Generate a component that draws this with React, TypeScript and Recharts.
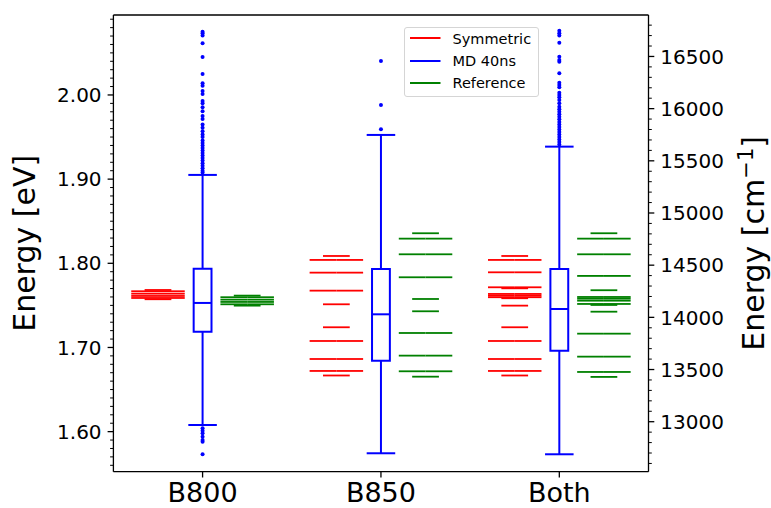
import React from 'react';
import {
  ComposedChart,
  XAxis,
  YAxis,
  Scatter,
  ReferenceLine,
  ReferenceArea,
  Legend,
  Label,
} from 'recharts';

const categories = ['B800', 'B850', 'Both'];

// exciton levels in eV, second value = degeneracy (2 -> drawn as a double-width bar)
const symmetricB800: [number, number][] = [
  [1.7683, 1], [1.7668, 2], [1.7639, 2], [1.7612, 2], [1.7588, 2], [1.7573, 1],
];
const symmetricB850: [number, number][] = [
  [1.8087, 1], [1.804, 2], [1.7889, 2], [1.7675, 2], [1.7513, 1],
  [1.724, 1], [1.7077, 2], [1.6863, 2], [1.6721, 2], [1.6667, 1],
];
const symmetricBoth: [number, number][] = [
  [1.8087, 1], [1.804, 2], [1.7893, 2], [1.7715, 2], [1.7703, 1], [1.7636, 2],
  [1.7616, 2], [1.7597, 2], [1.7585, 1], [1.7497, 1], [1.724, 1], [1.7077, 2],
  [1.6863, 2], [1.6721, 2], [1.6667, 1],
];
const referenceB800: [number, number][] = [
  [1.7616, 1], [1.7597, 2], [1.7568, 2], [1.7541, 2], [1.7513, 2], [1.7497, 1],
];
const referenceB850: [number, number][] = [
  [1.8357, 1], [1.8293, 2], [1.8107, 2], [1.7834, 2], [1.7576, 1],
  [1.743, 1], [1.7172, 2], [1.6903, 2], [1.6717, 2], [1.6653, 1],
];
const referenceBoth: [number, number][] = [
  [1.8357, 1], [1.8293, 2], [1.8107, 2], [1.785, 2], [1.768, 1], [1.76, 2],
  [1.758, 2], [1.7556, 2], [1.7517, 2], [1.7505, 1], [1.7425, 1], [1.7164, 2],
  [1.6891, 2], [1.6709, 2], [1.665, 1],
];

// MD 40ns box statistics per category
const mdQ1 = [1.7188, 1.6843, 1.6962];
const mdMedian = [1.7529, 1.7394, 1.7457];
const mdQ3 = [1.7936, 1.7933, 1.7933];
const mdWhiskerLow = [1.6079, 1.5743, 1.5731];
const mdWhiskerHigh = [1.905, 1.9525, 1.9386];

const mdOutliersB800 = [
  2.0752, 2.0733, 2.0705, 2.0614, 2.0451, 2.0249, 2.0139, 2.011, 2.0048, 2.0012,
  1.9929, 1.9901, 1.9854, 1.9806, 1.9751, 1.9715, 1.965, 1.961, 1.957, 1.953,
  1.95, 1.946, 1.943, 1.94, 1.937, 1.934, 1.931, 1.928, 1.925, 1.922, 1.919,
  1.916, 1.913, 1.91, 1.908, 1.604, 1.6012, 1.5981, 1.594, 1.5901, 1.5881, 1.5731,
];
const mdOutliersB850 = [2.0404, 1.9881, 1.9592];
const mdOutliersBoth = [
  2.0764, 2.0733, 2.0705, 2.0621, 2.0455, 2.0416, 2.0396, 2.0258, 2.0146, 2.0119,
  2.0091, 2.0027, 2.0, 1.9973, 1.9941, 1.9901, 1.986, 1.983, 1.98, 1.977, 1.974,
  1.971, 1.968, 1.965, 1.962, 1.959, 1.956, 1.953, 1.95, 1.947, 1.944, 1.941,
];

const leftMajorTicks = [1.6, 1.7, 1.8, 1.9, 2.0];
const rightMajorTicks = [13000, 13500, 14000, 14500, 15000, 15500, 16000, 16500];

const EV_TO_CM = 8065.54;
const Y_MIN = 1.5524;
const Y_MAX = 2.095;
const RED = '#ff0000';
const BLUE = '#0000ff';
const GREEN = '#008000';
const FONT = 'DejaVu Sans';

const leftMinorTicks: number[] = [];
for (let i = 156; i <= 209; i++) leftMinorTicks.push(i / 100);
const rightMinorTicks: number[] = [];
for (let v = 12600; v <= 16800; v += 100) rightMinorTicks.push(v);

const symmetricLevels = [symmetricB800, symmetricB850, symmetricBoth];
const referenceLevels = [referenceB800, referenceB850, referenceBoth];
const mdOutliers = [mdOutliersB800, mdOutliersB850, mdOutliersBoth];

const outlierPoints = mdOutliers.flatMap((vals, i) => vals.map((y) => ({ x: i + 1, y })));

type Seg = { x1: number; x2: number; y: number; color: string };
const levelSegments = (levels: [number, number][], center: number, color: string): Seg[] =>
  levels.flatMap(([e, deg]) =>
    deg === 2
      ? [
          { x1: center - 0.15, x2: center, y: e, color },
          { x1: center, x2: center + 0.15, y: e, color },
        ]
      : [{ x1: center - 0.075, x2: center + 0.075, y: e, color }]
  );

const segments: Seg[] = [
  ...symmetricLevels.flatMap((lv, i) => levelSegments(lv, i + 0.75, RED)),
  ...referenceLevels.flatMap((lv, i) => levelSegments(lv, i + 1.25, GREEN)),
];

const isMajor = (v: number, majors: number[]) => majors.some((m) => Math.abs(m - v) < 1e-6);

const LeftTick = (props: any) => {
  const { x, y, payload } = props;
  const major = isMajor(payload.value, leftMajorTicks);
  const len = major ? 5.8 : 3.3;
  return (
    <g>
      <line x1={x} x2={x - len} y1={y} y2={y} stroke="#000" strokeWidth={major ? 1.3 : 1} />
      {major && (
        <text x={x - len - 6} y={y} dy="0.36em" textAnchor="end" fontSize={20} fontFamily={FONT} fill="#000">
          {payload.value.toFixed(2)}
        </text>
      )}
    </g>
  );
};

const RightTick = (props: any) => {
  const { x, y, payload } = props;
  const major = isMajor(payload.value, rightMajorTicks);
  const len = major ? 5.8 : 3.3;
  return (
    <g>
      <line x1={x} x2={x + len} y1={y} y2={y} stroke="#000" strokeWidth={major ? 1.3 : 1} />
      {major && (
        <text x={x + len + 6} y={y} dy="0.36em" textAnchor="start" fontSize={20} fontFamily={FONT} fill="#000">
          {payload.value}
        </text>
      )}
    </g>
  );
};

const LeftLabel = (props: any) => {
  const { viewBox } = props;
  const cy = viewBox.y + viewBox.height / 2;
  const bx = 35.5;
  return (
    <text x={bx} y={cy} transform={`rotate(-90, ${bx}, ${cy})`} textAnchor="middle" fontSize={30} fontFamily={FONT} fill="#000">
      Energy [eV]
    </text>
  );
};

const RightLabel = (props: any) => {
  const { viewBox } = props;
  const cy = viewBox.y + viewBox.height / 2;
  const bx = 764.5;
  return (
    <text x={bx} y={cy} transform={`rotate(-90, ${bx}, ${cy})`} textAnchor="middle" fontSize={30} fontFamily={FONT} fill="#000">
      Energy [cm
      <tspan dy={-11} fontSize={21}>−1</tspan>
      <tspan dy={11}>]</tspan>
    </text>
  );
};

const legendItems = [
  { name: 'Symmetric', color: RED },
  { name: 'MD 40ns', color: BLUE },
  { name: 'Reference', color: GREEN },
];

const LegendBox = () => (
  <div
    style={{
      position: 'relative',
      width: 135,
      height: 70,
      boxSizing: 'border-box',
      border: '1px solid #d5d5d5',
      borderRadius: 3,
      background: 'rgba(255,255,255,0.8)',
      fontFamily: FONT,
      fontSize: 14.5,
      color: '#000',
    }}
  >
    {legendItems.map((it, i) => (
      <div key={it.name} style={{ position: 'absolute', left: 0, top: i * 22.2 - 0.7, width: 133, height: 22 }}>
        <svg width={40} height={22} style={{ position: 'absolute', left: 0, top: 0 }}>
          <line x1={5} x2={35.5} y1={11} y2={11} stroke={it.color} strokeWidth={2} />
        </svg>
        <span style={{ position: 'absolute', left: 47.5, top: 0.5, lineHeight: '22px', whiteSpace: 'nowrap' }}>{it.name}</span>
      </div>
    ))}
  </div>
);

export default function App() {
  return (
    <div style={{ position: 'absolute', left: 0, top: 0, background: '#fff' }}>
      <ComposedChart width={771} height={508} margin={{ top: 15, right: 0, bottom: 0, left: 0 }}>
        <XAxis
          type="number"
          dataKey="x"
          domain={[0.5, 3.5]}
          allowDataOverflow
          ticks={[1, 2, 3]}
          interval={0}
          tickFormatter={(v: number) => categories[v - 1]}
          height={36.3}
          tickSize={5.8}
          tickMargin={5}
          axisLine={{ stroke: '#000', strokeWidth: 1.3 }}
          tickLine={{ stroke: '#000', strokeWidth: 1.3 }}
          tick={{ fontSize: 27, fill: '#000', fontFamily: FONT }}
        />
        <YAxis
          yAxisId="left"
          type="number"
          dataKey="y"
          domain={[Y_MIN, Y_MAX]}
          allowDataOverflow
          ticks={leftMinorTicks}
          interval={0}
          width={113.4}
          tickSize={0}
          tickMargin={0}
          tickLine={false}
          axisLine={{ stroke: '#000', strokeWidth: 1.3 }}
          tick={<LeftTick />}
        >
          <Label content={<LeftLabel />} />
        </YAxis>
        <YAxis
          yAxisId="right"
          orientation="right"
          type="number"
          domain={[Y_MIN * EV_TO_CM, Y_MAX * EV_TO_CM]}
          allowDataOverflow
          ticks={rightMinorTicks}
          interval={0}
          width={122.5}
          tickSize={0}
          tickMargin={0}
          tickLine={false}
          axisLine={{ stroke: '#000', strokeWidth: 1.3 }}
          tick={<RightTick />}
        >
          <Label content={<RightLabel />} />
        </YAxis>

        <ReferenceLine yAxisId="left" y={Y_MAX} stroke="#000" strokeWidth={1.3} ifOverflow="visible" />

        {segments.map((s, i) => (
          <ReferenceLine
            key={`lvl-${i}`}
            yAxisId="left"
            segment={[{ x: s.x1, y: s.y }, { x: s.x2, y: s.y }]}
            stroke={s.color}
            strokeWidth={1.8}
            ifOverflow="visible"
          />
        ))}

        {categories.map((c, i) => (
          <ReferenceArea
            key={`box-${c}`}
            yAxisId="left"
            x1={i + 1 - 0.05}
            x2={i + 1 + 0.05}
            y1={mdQ1[i]}
            y2={mdQ3[i]}
            fill="none"
            fillOpacity={0}
            stroke={BLUE}
            strokeWidth={2}
            ifOverflow="visible"
          />
        ))}
        {categories.map((c, i) => (
          <ReferenceLine key={`med-${c}`} yAxisId="left" segment={[{ x: i + 0.95, y: mdMedian[i] }, { x: i + 1.05, y: mdMedian[i] }]} stroke={BLUE} strokeWidth={2} ifOverflow="visible" />
        ))}
        {categories.map((c, i) => (
          <ReferenceLine key={`wu-${c}`} yAxisId="left" segment={[{ x: i + 1, y: mdQ3[i] }, { x: i + 1, y: mdWhiskerHigh[i] }]} stroke={BLUE} strokeWidth={2} ifOverflow="visible" />
        ))}
        {categories.map((c, i) => (
          <ReferenceLine key={`wl-${c}`} yAxisId="left" segment={[{ x: i + 1, y: mdQ1[i] }, { x: i + 1, y: mdWhiskerLow[i] }]} stroke={BLUE} strokeWidth={2} ifOverflow="visible" />
        ))}
        {categories.map((c, i) => (
          <ReferenceLine key={`cu-${c}`} yAxisId="left" segment={[{ x: i + 0.92, y: mdWhiskerHigh[i] }, { x: i + 1.08, y: mdWhiskerHigh[i] }]} stroke={BLUE} strokeWidth={2} ifOverflow="visible" />
        ))}
        {categories.map((c, i) => (
          <ReferenceLine key={`cl-${c}`} yAxisId="left" segment={[{ x: i + 0.92, y: mdWhiskerLow[i] }, { x: i + 1.08, y: mdWhiskerLow[i] }]} stroke={BLUE} strokeWidth={2} ifOverflow="visible" />
        ))}

        <Scatter
          yAxisId="left"
          data={outlierPoints}
          dataKey="y"
          fill={BLUE}
          isAnimationActive={false}
          shape={(p: any) => <circle cx={p.cx} cy={p.cy} r={2} fill={BLUE} />}
        />

        <Legend
          layout="vertical"
          align="center"
          verticalAlign="middle"
          content={<LegendBox />}
          wrapperStyle={{ left: 404, top: 27, width: 135, height: 70 }}
        />
      </ComposedChart>
    </div>
  );
}
